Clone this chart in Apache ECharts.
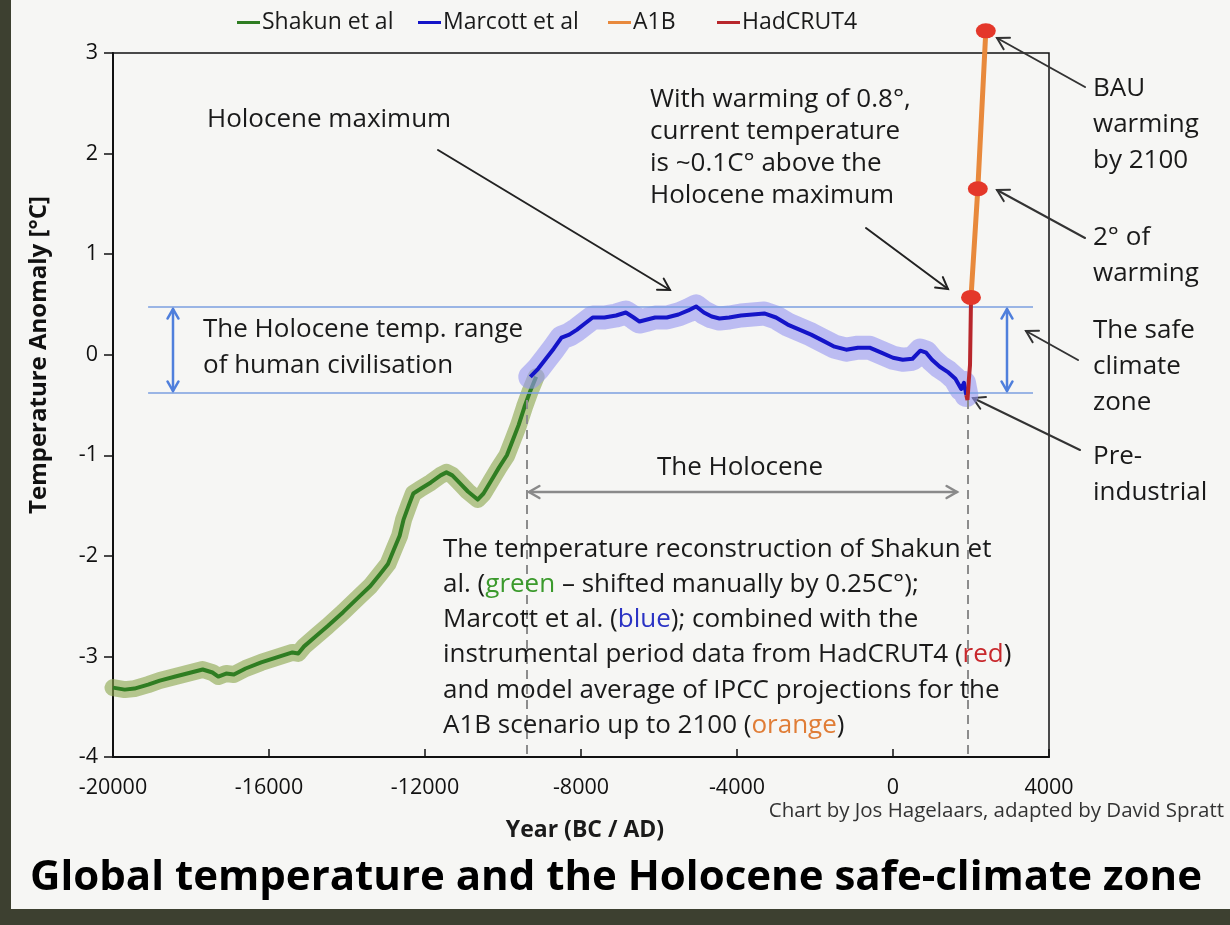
<!DOCTYPE html>
<html>
<head>
<meta charset="utf-8">
<script src="https://cdn.jsdelivr.net/npm/echarts@6/dist/echarts.min.js"></script>
<style>
html,body{margin:0;padding:0;background:#f6f6f4;}
#c{width:1230px;height:925px;}
</style>
</head>
<body>
<div id="c"></div>
<script>
// ---- data ----
const shakunYears = [-20000,-19700,-19450,-19100,-18800,-18400,-18000,-17700,-17450,-17300,-17100,-16900,-16600,-16200,-15800,-15400,-15250,-15100,-14800,-14500,-14100,-13700,-13400,-13150,-12950,-12800,-12650,-12550,-12400,-12300,-12100,-11850,-11600,-11450,-11300,-11100,-10900,-10650,-10500,-10300,-10100,-9900,-9750,-9600,-9450,-9300,-9150];
const shakunTemps = [-3.31,-3.33,-3.32,-3.28,-3.24,-3.2,-3.16,-3.13,-3.16,-3.2,-3.17,-3.18,-3.12,-3.06,-3.01,-2.96,-2.97,-2.9,-2.8,-2.7,-2.56,-2.41,-2.3,-2.18,-2.08,-1.94,-1.8,-1.64,-1.48,-1.38,-1.33,-1.27,-1.2,-1.17,-1.2,-1.28,-1.36,-1.44,-1.38,-1.25,-1.12,-1.0,-0.85,-0.7,-0.52,-0.36,-0.22];

const marcottYears = [-9300,-9100,-8900,-8700,-8500,-8300,-8100,-7900,-7700,-7400,-7100,-6850,-6650,-6500,-6300,-6100,-5800,-5500,-5250,-5050,-4850,-4650,-4450,-4200,-3900,-3600,-3300,-3000,-2700,-2400,-2100,-1800,-1500,-1200,-900,-600,-300,0,250,500,700,850,1000,1200,1400,1600,1750,1820,1880];
const marcottTemps = [-0.22,-0.14,-0.04,0.06,0.17,0.2,0.25,0.31,0.37,0.37,0.39,0.42,0.37,0.33,0.35,0.37,0.37,0.4,0.44,0.48,0.42,0.38,0.36,0.37,0.39,0.4,0.41,0.37,0.3,0.25,0.2,0.14,0.08,0.05,0.07,0.07,0.02,-0.03,-0.05,-0.04,0.04,0.02,-0.05,-0.12,-0.17,-0.24,-0.34,-0.28,-0.4];

const hadYears = [1880,1910,1945,1975,2000];
const hadTemps = [-0.4,-0.45,-0.25,-0.1,0.55];

const a1bYears = [2000,2175,2380];
const a1bTemps = [0.57,1.65,3.22];

const zoneTop = 0.48, zoneBottom = -0.38;

const xTicks = {min:-20000, max:4000, interval:4000};
const yTicks = {min:-4, max:3, interval:1};

const seriesNames = ['Shakun et al','Marcott et al','A1B','HadCRUT4'];
const seriesColors = ['#2f7d22','#1414c8','#e8893c','#b8262b'];

const pair = (xs, ys) => xs.map((x,i)=>[x, ys[i]]);

// ---- chart ----
const FONT = '"Open Sans", "Noto Sans", sans-serif';
const chart = echarts.init(document.getElementById('c'), null, {renderer:'canvas'});

function arrow(x1,y1,x2,y2,color,width,both,head){
  head = head || 13;
  const els = [{type:'line', shape:{x1,y1,x2,y2}, style:{stroke:color, lineWidth:width, lineCap:'round'}}];
  function tip(xa,ya,xb,yb){
    const a = Math.atan2(yb-ya, xb-xa), s = Math.PI/6;
    return {type:'polyline', shape:{points:[[xb-head*Math.cos(a-s), yb-head*Math.sin(a-s)],[xb,yb],[xb-head*Math.cos(a+s), yb-head*Math.sin(a+s)]]},
            style:{stroke:color, lineWidth:width, fill:null, lineJoin:'miter', lineCap:'round'}};
  }
  els.push(tip(x1,y1,x2,y2));
  if(both) els.push(tip(x2,y2,x1,y1));
  return {type:'group', children:els, z:50};
}
function txt(x,y,text,size,opts){
  opts = opts||{};
  return {type:'text', x, y, z:60, style:Object.assign({text, fill:'#1a1a1a', font:(opts.bold?'bold ':'')+size+'px '+FONT, verticalAlign:'middle', align:opts.align||'left'}, opts.extra||{})};
}
const lines = (x,y0,dy,arr,size)=>arr.map((t,i)=>txt(x,y0+i*dy,t,size));

const parRich = {g:'#3b9a2c', b:'#2b33c4', r:'#c8282c', o:'#e07d36'};
function richTxt(x,y,text,size){
  const rich = {};
  for (const k in parRich) rich[k] = {fill:parRich[k], font:size+'px '+FONT};
  return {type:'text', x, y, z:60, style:{text, fill:'#1a1a1a', font:size+'px '+FONT, verticalAlign:'middle', rich}};
}

const AF = 26; // annotation font size
const graphics = [
  // page frame
  {type:'rect', shape:{x:0,y:0,width:11,height:925}, style:{fill:'#3d4030'}, z:1},
  {type:'rect', shape:{x:0,y:909,width:1230,height:16}, style:{fill:'#3d4030'}, z:1},
  // axis titles and captions
  {type:'text', x:39, y:355, rotation:Math.PI/2, z:60, style:{text:'Temperature Anomaly [°C]', font:'bold 24px '+FONT, fill:'#111', align:'center', verticalAlign:'middle'}},
  txt(585,830,'Year (BC / AD)',23,{bold:true,align:'center'}),
  txt(1224,811,'Chart by Jos Hagelaars, adapted by David Spratt',20.5,{align:'right',extra:{fill:'#333'}}),
  txt(616,878,'Global temperature and the Holocene safe-climate zone',42,{bold:true,align:'center',extra:{fill:'#000'}}),
  // annotations
  txt(207,120,'Holocene maximum',AF),
  ...lines(650,100,32,['With warming of 0.8°,','current temperature','is ~0.1C° above the','Holocene maximum'],AF),
  ...lines(1093,89,36,['BAU','warming','by 2100'],AF),
  ...lines(1093,238,36,['2° of','warming'],AF),
  ...lines(1093,331,36,['The safe','climate','zone'],AF),
  ...lines(1093,457,36,['Pre-','industrial'],AF),
  ...lines(203,330,36,['The Holocene temp. range','of human civilisation'],AF),
  txt(740,468,'The Holocene',AF,{align:'center'}),
  richTxt(443,550,'The temperature reconstruction of Shakun et',AF),
  richTxt(443,585,'al. ({g|green} – shifted manually by 0.25C°);',AF),
  richTxt(443,620,'Marcott et al. ({b|blue}); combined with the',AF),
  richTxt(443,655,'instrumental period data from HadCRUT4 ({r|red})',AF),
  richTxt(443,691,'and model average of IPCC projections for the',AF),
  richTxt(443,726,'A1B scenario up to 2100 ({o|orange})',AF),
  // arrows
  arrow(438,150,670,290,'#222',2),
  arrow(866,228,948,289,'#222',2),
  arrow(1085,87,997,38,'#333',2),
  arrow(1085,238,997,190,'#333',2),
  arrow(1078,360,1026,331,'#333',2),
  arrow(1080,450,973,398,'#333',2),
  arrow(173,309,173,391,'#4f7fdc',2.5,true,11),
  arrow(1007,309,1007,391,'#4f7fdc',2.5,true,11),
  arrow(529,492,957,492,'#8a8a8a',2.5,true,12)
];

const legendLefts = [232, 413, 603, 712];
const legends = seriesNames.map((n,i)=>({
  data:[{name:n, itemStyle:{color:seriesColors[i]}}],
  top:6, left:legendLefts[i], itemWidth:23, itemHeight:3, icon:'rect', selectedMode:false,
  textStyle:{fontSize:23, color:'#1a1a1a', fontFamily:FONT, padding:[0,0,0,-3]}
}));

const option = {
  backgroundColor:'#f6f6f4',
  animation:false,
  textStyle:{fontFamily:FONT},
  legend:legends,
  grid:{left:113, right:181, top:53, bottom:168, show:true, borderColor:'#111', borderWidth:1.5, backgroundColor:'transparent'},
  xAxis:{
    type:'value', min:xTicks.min, max:xTicks.max, interval:xTicks.interval,
    axisLine:{onZero:false, lineStyle:{color:'#111', width:2}},
    axisTick:{inside:true, length:8, lineStyle:{color:'#111', width:1.5}},
    axisLabel:{fontSize:21.5, color:'#111', margin:20, formatter:v=>String(v)},
    splitLine:{show:false}
  },
  yAxis:{
    type:'value', min:yTicks.min, max:yTicks.max, interval:yTicks.interval,
    axisLine:{show:true, onZero:false, lineStyle:{color:'#111', width:2}},
    axisTick:{show:true, length:9, lineStyle:{color:'#111', width:1.5}},
    axisLabel:{fontSize:21.5, color:'#111', margin:15, formatter:v=>String(v)},
    splitLine:{show:false}
  },
  series:[
    {name:'Shakun band', type:'line', data:pair(shakunYears, shakunTemps), showSymbol:false, silent:true, z:2,
     lineStyle:{color:'rgba(138,166,78,0.62)', width:17, cap:'round', join:'round'}},
    {name:'Shakun et al', type:'line', data:pair(shakunYears, shakunTemps), showSymbol:false, z:3, color:seriesColors[0],
     lineStyle:{color:seriesColors[0], width:4, join:'round'},
     markLine:{silent:true, symbol:'none', label:{show:false}, animation:false,
       lineStyle:{color:'#7b9fe0', width:1.5, type:'solid'},
       data:[
         [{coord:[-19100, zoneTop]},{coord:[3590, zoneTop]}],
         [{coord:[-19100, zoneBottom]},{coord:[3590, zoneBottom]}],
         [{coord:[-9380, -0.45], lineStyle:{color:'#8c8c8c', width:2, type:[9,6]}},{coord:[-9380, -4]}],
         [{coord:[1920, -0.45], lineStyle:{color:'#8c8c8c', width:2, type:[9,6]}},{coord:[1920, -4]}]
       ]}},
    {name:'Marcott band', type:'line', data:pair(marcottYears, marcottTemps), showSymbol:false, silent:true, z:4,
     lineStyle:{color:'rgba(150,150,240,0.6)', width:24, cap:'round', join:'round'}},
    {name:'Marcott et al', type:'line', data:pair(marcottYears, marcottTemps), showSymbol:false, z:5, color:seriesColors[1],
     lineStyle:{color:seriesColors[1], width:4, join:'round'}},
    {name:'HadCRUT4', type:'line', data:pair(hadYears, hadTemps), showSymbol:false, z:6, color:seriesColors[3],
     lineStyle:{color:seriesColors[3], width:4}},
    {name:'A1B', type:'line', data:pair(a1bYears, a1bTemps), clip:false, z:7, color:seriesColors[2],
     lineStyle:{color:seriesColors[2], width:5},
     symbol:'circle', symbolSize:[20,15], showSymbol:true,
     itemStyle:{color:'#e4372a', borderWidth:0}}
  ],
  graphic:graphics
};
chart.setOption(option);
</script>
</body>
</html>
